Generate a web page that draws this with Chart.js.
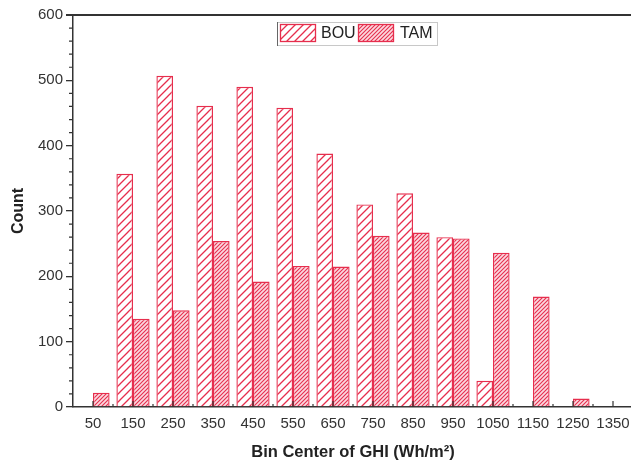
<!DOCTYPE html>
<html>
<head>
<meta charset="utf-8">
<script src="https://cdn.jsdelivr.net/npm/chart.js@4.4.1/dist/chart.umd.min.js"></script>
<style>
    html, body { margin: 0; padding: 0; background: #fff; overflow: hidden; }
    #wrap { width: 631px; height: 466px; overflow: hidden; }
</style>
</head>
<body>
<div id="wrap"><canvas id="ghiChart" width="640" height="466"></canvas></div>
<script>
// bin centres of GHI (Wh/m2)
const categories = ['50', '150', '250', '350', '450', '550', '650', '750', '850', '950', '1050', '1150', '1250', '1350'];
// counts per bin
const bouCounts = [0, 357, 507, 461, 490, 458, 388, 310, 327, 260, 40, 0, 0, 0];
const tamCounts = [22, 135, 148, 254, 192, 216, 215, 262, 267, 258, 236, 169, 13, 0];
const yTicks = [0, 100, 200, 300, 400, 500, 600];

const RED = '#e62e4d';
const AXIS = '#333';
const FONT = "'Liberation Sans', Arial, sans-serif";

// hatch pattern: diagonal "/" lines
function makeHatch(size, bg, lineW) {
    const c = document.createElement('canvas');
    c.width = size; c.height = size;
    const g = c.getContext('2d');
    g.fillStyle = bg;
    g.fillRect(0, 0, size, size);
    g.strokeStyle = RED;
    g.lineWidth = lineW;
    g.beginPath();
    g.moveTo(-1, size + 1); g.lineTo(size + 1, -1);
    g.moveTo(-1, 1); g.lineTo(1, -1);
    g.moveTo(size - 1, size + 1); g.lineTo(size + 1, size - 1);
    g.stroke();
    return g.createPattern(c, 'repeat');
}

const bouFill = makeHatch(8, '#ffffff', 1.3);
const tamFill = makeHatch(4, '#fbd9e0', 1.1);

// ticks, frame line and legend
const decorPlugin = {
    id: 'decor',
    afterDraw(chart) {
        const ctx = chart.ctx;
        const area = chart.chartArea;
        const x = chart.scales.x, y = chart.scales.y;
        ctx.save();
        ctx.strokeStyle = AXIS;

        // y minor ticks (outside)
        ctx.lineWidth = 1.2;
        ctx.beginPath();
        for (let v = 20; v < 600; v += 20) {
            if (v % 100 === 0) continue;
            const py = y.getPixelForValue(v);
            ctx.moveTo(area.left - 4, py); ctx.lineTo(area.left, py);
        }
        ctx.stroke();

        // x ticks (inside)
        ctx.beginPath();
        categories.forEach((c, i) => {
            const px = x.getPixelForValue(i);
            ctx.moveTo(px, area.bottom); ctx.lineTo(px, area.bottom - 6);
            if (i < categories.length - 1) {
                const mx = (px + x.getPixelForValue(i + 1)) / 2;
                ctx.moveTo(mx, area.bottom); ctx.lineTo(mx, area.bottom - 3);
            }
        });
        ctx.stroke();

        // top frame line
        ctx.lineWidth = 2;
        ctx.beginPath();
        ctx.moveTo(area.left - 7, area.top);
        ctx.lineTo(chart.width, area.top);
        ctx.stroke();

        // legend
        const lx = 277, ly = 22, lw = 160, lh = 23;
        ctx.lineWidth = 1;
        ctx.strokeStyle = '#c8c8c8';
        ctx.strokeRect(lx + 0.5, ly + 0.5, lw, lh);
        ctx.strokeStyle = '#666';
        ctx.beginPath();
        ctx.moveTo(lx + 0.5, ly); ctx.lineTo(lx + 0.5, ly + lh + 1);
        ctx.stroke();

        const items = [
            { label: 'BOU', fill: bouFill, bx: 280, tx: 321 },
            { label: 'TAM', fill: tamFill, bx: 358, tx: 400 }
        ];
        ctx.font = '16px ' + FONT;
        ctx.textBaseline = 'middle';
        items.forEach(it => {
            ctx.fillStyle = it.fill;
            ctx.fillRect(it.bx, 24, 36, 18);
            ctx.strokeStyle = RED;
            ctx.lineWidth = 1.3;
            ctx.strokeRect(it.bx + 0.5, 24.5, 35, 17);
            ctx.fillStyle = '#222';
            ctx.fillText(it.label, it.tx, 34);
        });
        ctx.restore();
    }
};

new Chart(document.getElementById('ghiChart'), {
    type: 'bar',
    data: {
        labels: categories,
        datasets: [
            {
                label: 'BOU',
                data: bouCounts,
                backgroundColor: bouFill,
                borderColor: RED,
                borderWidth: 1.4,
                categoryPercentage: 0.83,
                barPercentage: 1.0
            },
            {
                label: 'TAM',
                data: tamCounts,
                backgroundColor: tamFill,
                borderColor: RED,
                borderWidth: 1.4,
                categoryPercentage: 0.83,
                barPercentage: 1.0
            }
        ]
    },
    options: {
        responsive: false,
        animation: false,
        layout: { padding: { top: 15, right: 7, left: 0, bottom: 0 } },
        plugins: {
            legend: { display: false },
            tooltip: { enabled: false }
        },
        scales: {
            x: {
                offset: true,
                grid: { display: true, drawOnChartArea: false, drawTicks: false },
                border: { display: true, color: AXIS, width: 1.5 },
                ticks: {
                    color: AXIS, padding: 8, maxRotation: 0, autoSkip: false,
                    font: { family: FONT, size: 15 }
                },
                title: {
                    display: true, text: 'Bin Center of GHI (Wh/m²)', color: '#222',
                    font: { family: FONT, size: 16.5, weight: 'bold' },
                    padding: { top: 0, bottom: 4 }
                },
                afterFit: s => { s.height = 59; }
            },
            y: {
                min: 0, max: 600,
                afterBuildTicks: s => { s.ticks = yTicks.map(v => ({ value: v })); },
                grid: { drawOnChartArea: false, tickLength: 7, tickColor: AXIS, lineWidth: 1.3 },
                border: { display: true, color: AXIS, width: 1.5 },
                ticks: {
                    color: AXIS, padding: 3,
                    font: { family: FONT, size: 15 }
                },
                title: {
                    display: true, text: 'Count', color: '#222',
                    font: { family: FONT, size: 16, weight: 'bold' },
                    padding: { top: 9, bottom: 0 }
                },
                afterFit: s => { s.width = 73; }
            }
        }
    },
    plugins: [decorPlugin]
});
</script>
</body>
</html>
